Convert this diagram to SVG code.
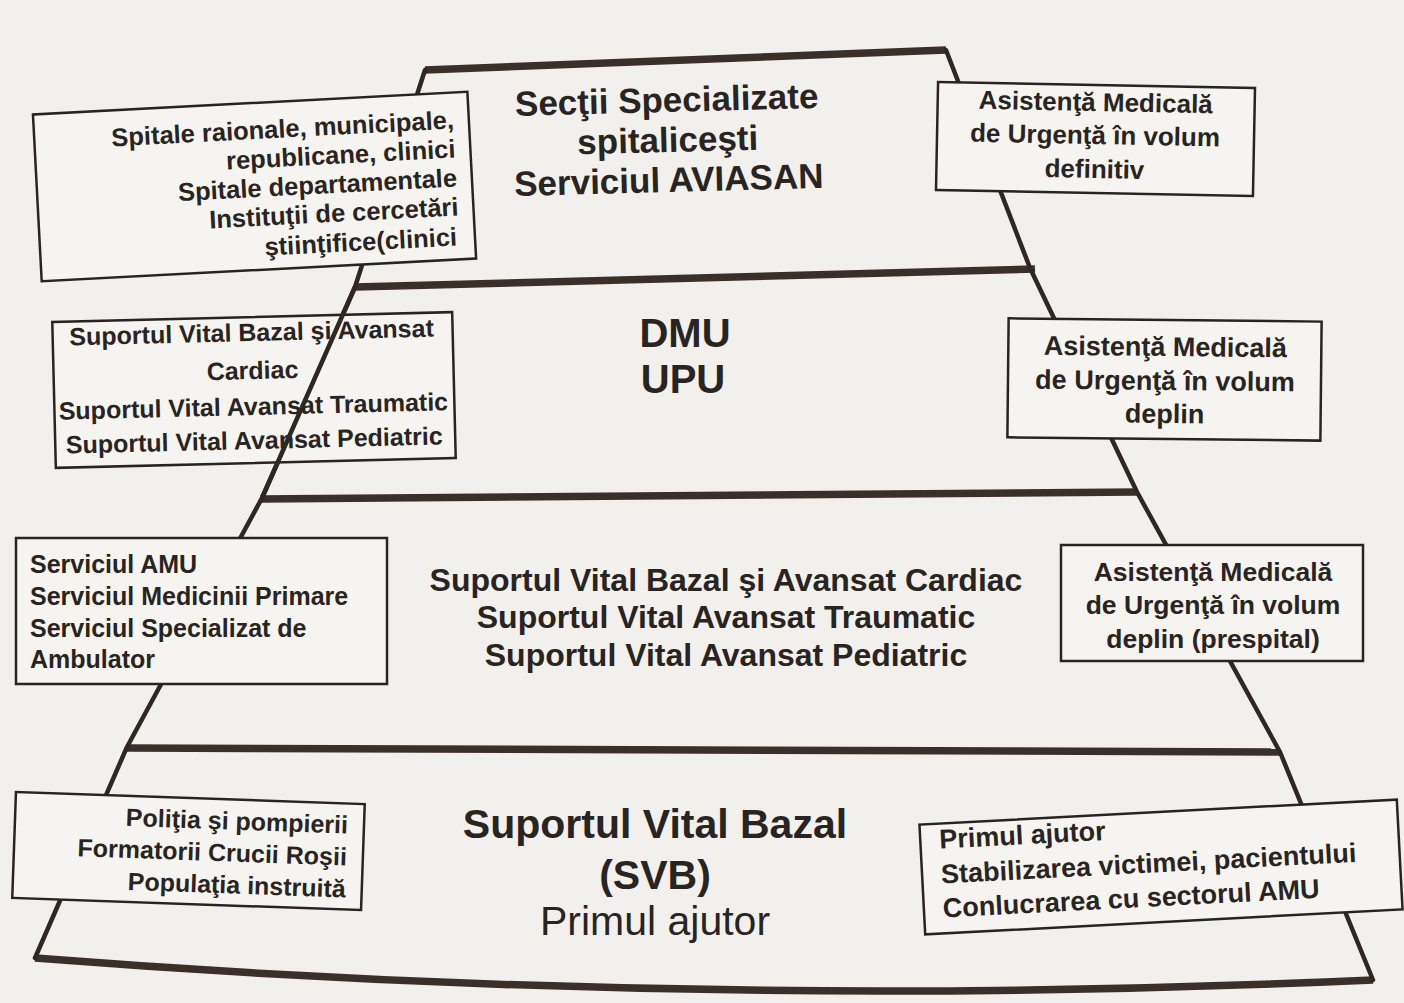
<svg xmlns="http://www.w3.org/2000/svg" width="1404" height="1003" viewBox="0 0 1404 1003">
<style>
.bg{fill:#f1f0ed}
.edge{fill:none;stroke:#2f2721;stroke-width:4.5;stroke-linecap:round;stroke-linejoin:round}
.band{fill:none;stroke:#3a3029;stroke-width:7.5;stroke-linecap:butt}
.box{fill:#f5f4f1;stroke:#2a2420;stroke-width:2.5}
text{font-family:"Liberation Sans",Arial,Helvetica,sans-serif;fill:#2a2420}
.b{font-weight:bold}
.m{text-anchor:middle}
.e{text-anchor:end}
.s25{font-size:25px}
.s27{font-size:27px}
</style>
<rect class="bg" x="0" y="0" width="1404" height="1003"/>

<g id="pyramid-outline">
  <path class="band" d="M425,70 L946,50"/>
  <path class="band" d="M355,287 L1035,269"/>
  <path class="band" d="M260,499 L1137,492"/>
  <path class="band" d="M127,748 L1280,752"/>
  <path class="band" d="M35,958 Q700,1010 1373,980"/>
  <path class="edge" d="M425,70 L355,287 L262,498 L127,747 L35,958"/>
  <path class="edge" d="M946,50 L1030,268 L1137,492 L1280,752 L1373,980"/>
</g>

<g id="tier1-label">
  <g transform="rotate(-1.5 668 150)">
    <text class="b m" x="668" y="112" font-size="35">Secţii Specializate</text>
    <text class="b m" x="668" y="152" font-size="35">spitaliceşti</text>
    <text class="b m" x="668" y="192" font-size="35">Serviciul AVIASAN</text>
  </g>
</g>

<g id="tier2-label">
  <text class="b m" x="685" y="347" font-size="40">DMU</text>
  <text class="b m" x="683" y="393" font-size="40">UPU</text>
</g>

<g id="tier3-label">
  <text class="b m" x="726" y="591" font-size="32">Suportul Vital Bazal şi Avansat Cardiac</text>
  <text class="b m" x="726" y="628" font-size="32">Suportul Vital Avansat Traumatic</text>
  <text class="b m" x="726" y="666" font-size="32">Suportul Vital Avansat Pediatric</text>
</g>

<g id="tier4-label">
  <text class="b m" x="655" y="838" font-size="41">Suportul Vital Bazal</text>
  <text class="b m" x="655" y="889" font-size="41">(SVB)</text>
  <text class="m" x="655" y="935" font-size="41">Primul ajutor</text>
</g>

<g id="box-spitale" transform="rotate(-3 255 186)">
  <rect class="box" x="37" y="103" width="435" height="167"/>
  <text class="b e" x="457" y="139" font-size="25.5">Spitale raionale, municipale,</text>
  <text class="b e" x="457" y="168" font-size="25.5">republicane, clinici</text>
  <text class="b e" x="457" y="197" font-size="25.5">Spitale departamentale</text>
  <text class="b e" x="457" y="226" font-size="25.5">Instituţii de cercetări</text>
  <text class="b e" x="454" y="256" font-size="25.5">ştiinţifice(clinici</text>
</g>

<g id="box-amu-definitiv" transform="rotate(1.1 1095 139)">
  <rect class="box" x="937" y="85" width="317" height="108"/>
  <text class="b m" x="1095" y="111" font-size="26">Asistenţă Medicală</text>
  <text class="b m" x="1095" y="144" font-size="26">de Urgenţă în volum</text>
  <text class="b m" x="1095" y="178" font-size="26">definitiv</text>
</g>

<g id="box-suport-dmu" transform="rotate(-1.4 254 390)">
  <rect class="box" x="54" y="317" width="400" height="146"/>
  <text class="b m s25" x="253" y="341">Suportul Vital Bazal şi Avansat</text>
  <text class="b m s25" x="253" y="379">Cardiac</text>
  <text class="b m s25" x="253" y="415">Suportul Vital Avansat Traumatic</text>
  <text class="b m s25" x="253" y="449">Suportul Vital Avansat Pediatric</text>
</g>

<g id="box-amu-deplin" transform="rotate(0.6 1165 380)">
  <rect class="box" x="1008" y="320" width="313" height="119"/>
  <text class="b m s27" x="1165" y="356">Asistenţă Medicală</text>
  <text class="b m s27" x="1165" y="390">de Urgenţă în volum</text>
  <text class="b m s27" x="1165" y="423">deplin</text>
</g>

<g id="box-servicii">
  <rect class="box" x="16" y="538" width="371" height="146"/>
  <text class="b s25" x="30" y="573">Serviciul AMU</text>
  <text class="b s25" x="30" y="605">Serviciul Medicinii Primare</text>
  <text class="b s25" x="30" y="637">Serviciul Specializat de</text>
  <text class="b s25" x="30" y="668">Ambulator</text>
</g>

<g id="box-amu-prespital">
  <rect class="box" x="1061" y="545" width="302" height="116"/>
  <text class="b m" x="1213" y="581" font-size="26.5">Asistenţă Medicală</text>
  <text class="b m" x="1213" y="614" font-size="26.5">de Urgenţă în volum</text>
  <text class="b m" x="1213" y="648" font-size="26.5">deplin (prespital)</text>
</g>

<g id="box-politia" transform="rotate(2 188 851)">
  <rect class="box" x="14" y="798" width="349" height="106"/>
  <text class="b e s25" x="347" y="828">Poliţia şi pompierii</text>
  <text class="b e s25" x="347" y="860">Formatorii Crucii Roşii</text>
  <text class="b e s25" x="347" y="892">Populaţia instruită</text>
</g>

<g id="box-primul-ajutor" transform="rotate(-3 1161 867)">
  <rect class="box" x="922" y="812" width="478" height="110"/>
  <text class="b s27" x="941" y="837">Primul ajutor</text>
  <text class="b s27" x="941" y="872">Stabilizarea victimei, pacientului</text>
  <text class="b s27" x="941" y="906">Conlucrarea cu sectorul AMU</text>
</g>

<g id="connector-overlay">
  <path class="edge" d="M355,287 L262,498"/>
</g>
</svg>
